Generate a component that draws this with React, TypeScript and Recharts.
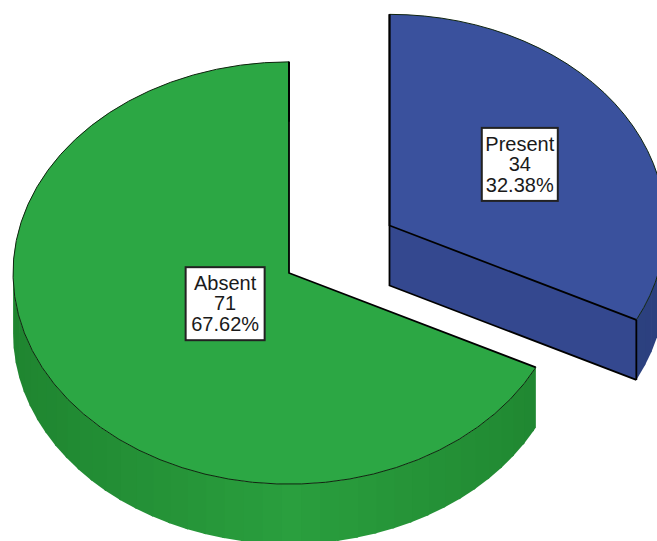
import React from 'react';
import { PieChart, Pie } from 'recharts';

const categories = ['Present', 'Absent'];
const counts = [34, 71];

const chartData = categories.map((name, i) => ({ name, value: counts[i] }));

// flattening of the disc and the height of its wall
const TILT = 0.765;
const DEPTH = 60;

// how far a slice is pulled out, as a fraction of the radius
const explode: Record<string, number> = { Present: 0.428, Absent: 0 };
// where the value box sits along the slice's mid angle
const labelRadius: Record<string, number> = { Present: 0.555, Absent: 0.272 };
const boxWidth: Record<string, number> = { Present: 76, Absent: 79 };

const palette: Record<string, { top: string; face: string; front: number[]; edge: number[] }> = {
    Present: { top: '#3a519d', face: '#34488f', front: [48, 70, 138], edge: [44, 64, 126] },
    Absent: { top: '#2ca744', face: '#218a33', front: [42, 159, 62], edge: [31, 133, 48] },
};

const RAD = Math.PI / 180;

const mix = (a: number[], b: number[], t: number) =>
    `rgb(${a.map((v, i) => Math.round(v + (b[i] - v) * t)).join(',')})`;

const Slice3D = (props: any) => {
    const { cx, cy, outerRadius, startAngle, endAngle, midAngle, name } = props;
    const rx = outerRadius;
    const ry = outerRadius * TILT;
    const colors = palette[name];

    const ox = cx + Math.cos(midAngle * RAD) * rx * explode[name];
    const oy = cy - Math.sin(midAngle * RAD) * ry * explode[name];
    const pt = (deg: number, drop = 0): [number, number] => [
        ox + Math.cos(deg * RAD) * rx,
        oy - Math.sin(deg * RAD) * ry + drop,
    ];

    const hi = Math.max(startAngle, endAngle);
    const lo = Math.min(startAngle, endAngle);
    const [sx, sy] = pt(hi);
    const [ex, ey] = pt(lo);
    const large = hi - lo > 180 ? 1 : 0;

    // wall facets, only the part of the rim that faces the viewer;
    // each one runs a little under the next so no seams show
    const facets = [];
    const rimFrom = Math.max(lo, -180);
    const rimTo = Math.min(hi, 0);
    for (let a = rimFrom; a < rimTo; a += 4) {
        const b = Math.min(a + 4, rimTo);
        const over = Math.min(b + 0.5, rimTo);
        const p1 = pt(a);
        const p2 = pt(over);
        const p3 = pt(over, DEPTH);
        const p4 = pt(a, DEPTH);
        const shade = mix(colors.front, colors.edge, Math.abs(Math.cos(((a + b) / 2) * RAD)));
        facets.unshift(
            <polygon key={a} points={[p1, p2, p3, p4].join(' ')} fill={shade} />
        );
    }

    return (
        <g>
            <polygon
                points={[[ox, oy], [ex, ey], [ex, ey + DEPTH], [ox, oy + DEPTH]].join(' ')}
                fill={colors.face}
            />
            {facets}
            <path
                d={`M${ox},${oy} L${sx},${sy} A${rx},${ry} 0 ${large} 1 ${ex},${ey} Z`}
                fill={colors.top}
            />
            {/* outlines: the arc is a hairline, the cut edges are heavier */}
            <path
                d={`M${sx},${sy} A${rx},${ry} 0 ${large} 1 ${ex},${ey}`}
                fill="none"
                stroke="#10240f"
                strokeWidth={1}
            />
            <path d={`M${sx},${sy} L${ox},${oy} L${ex},${ey}`} fill="none" stroke="#000" strokeWidth={1.8} />
            <path d={`M${ex},${ey} V${ey + DEPTH}`} stroke="#000" strokeWidth={1.8} />
            {name === 'Present' && (
                <path
                    d={`M${ox},${sy} V${oy + DEPTH} L${ex},${ey + DEPTH}`}
                    fill="none"
                    stroke="#000"
                    strokeWidth={1.8}
                />
            )}
        </g>
    );
};

const renderBox = (props: any) => {
    const { cx, cy, outerRadius, midAngle, name, value, percent } = props;
    const rx = outerRadius;
    const ry = outerRadius * TILT;
    const reach = explode[name] + labelRadius[name];
    const x = cx + Math.cos(midAngle * RAD) * rx * reach;
    const y = cy - Math.sin(midAngle * RAD) * ry * reach;
    const w = boxWidth[name];
    return (
        <g>
            <rect x={x - w / 2} y={y - 36} width={w} height={73} fill="#fff" stroke="#222" strokeWidth={2} />
            <text
                textAnchor="middle"
                fontFamily="'Liberation Sans', Arial, sans-serif"
                fontSize={20}
                fill="#1a1a1a"
            >
                <tspan x={x} y={y - 13}>{name}</tspan>
                <tspan x={x} y={y + 7}>{value}</tspan>
                <tspan x={x} y={y + 28}>{(percent * 100).toFixed(2)}%</tspan>
            </text>
        </g>
    );
};

const App = () => (
    <div style={{ width: 657, height: 541, overflow: 'hidden', background: '#fff' }}>
        <style>{'body { margin: 0; }'}</style>
        <PieChart width={657} height={541} margin={{ top: 0, right: 0, bottom: 0, left: 0 }}>
            <Pie
                data={chartData}
                dataKey="value"
                nameKey="name"
                cx={289}
                cy={273}
                innerRadius={0}
                outerRadius={276}
                startAngle={90}
                endAngle={-270}
                stroke="none"
                labelLine={false}
                label={renderBox}
                shape={Slice3D}
                isAnimationActive={false}
            />
        </PieChart>
    </div>
);

export default App;
